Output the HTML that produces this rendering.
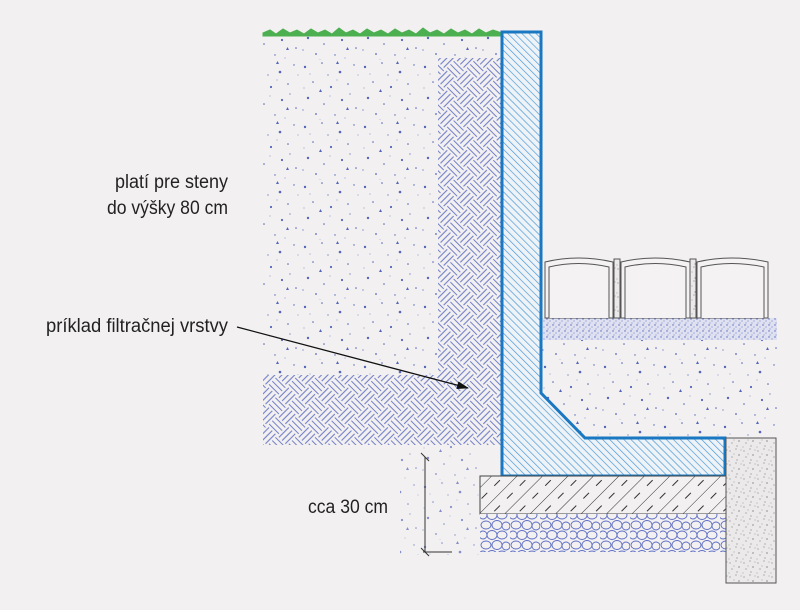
<!DOCTYPE html>
<html><head><meta charset="utf-8"><style>
html,body{margin:0;padding:0;background:#f2f0f0;}
svg{display:block;}
text{font-family:"Liberation Sans",sans-serif;font-size:19px;fill:#222;}
</style></head><body>
<svg width="800" height="610" viewBox="0 0 800 610" xmlns="http://www.w3.org/2000/svg">
<defs>
<pattern id="soil" width="60" height="60" patternUnits="userSpaceOnUse">
<rect width="60" height="60" fill="#f2f0f0"/>
<g fill="#5566bb">
<circle cx="5" cy="7" r="1.2"/><circle cx="22" cy="3" r="0.8"/><circle cx="40" cy="12" r="1.3"/><circle cx="54" cy="5" r="0.7"/>
<circle cx="13" cy="22" r="0.8"/><circle cx="31" cy="27" r="1.1"/><circle cx="48" cy="24" r="0.8"/><circle cx="8" cy="38" r="1.2"/>
<circle cx="24" cy="44" r="0.8"/><circle cx="42" cy="40" r="1.1"/><circle cx="56" cy="48" r="0.8"/><circle cx="16" cy="54" r="0.9"/>
<circle cx="35" cy="55" r="0.7"/><circle cx="3" cy="50" r="0.6"/><circle cx="50" cy="34" r="0.6"/><circle cx="28" cy="15" r="0.6"/>
<polygon points="19,32 22,32 20.5,29"/><polygon points="46,50 49,50 47.5,47"/><polygon points="36,4 39,4 37.5,1"/>
</g>
<g fill="#99a3d6"><circle cx="10" cy="14" r="0.6"/><circle cx="37" cy="20" r="0.6"/><circle cx="58" cy="15" r="0.6"/><circle cx="20" cy="60" r="0.6"/><circle cx="30" cy="36" r="0.6"/><circle cx="45" cy="58" r="0.6"/><circle cx="4" cy="28" r="0.6"/></g>
</pattern>
<pattern id="weave" width="28" height="28" patternUnits="userSpaceOnUse" patternTransform="rotate(45)">
<rect width="28" height="28" fill="#f2f0f0"/>
<g stroke="#7380c8" stroke-width="1.1" fill="none">
<path d="M0 2.5 H14 M0 7 H14 M0 11.5 H14"/>
<path d="M14 16.5 H28 M14 21 H28 M14 25.5 H28"/>
<path d="M16.5 0 V14 M21 0 V14 M25.5 0 V14"/>
<path d="M2.5 14 V28 M7 14 V28 M11.5 14 V28"/>
</g>
</pattern>
<pattern id="wall" width="5" height="5" patternUnits="userSpaceOnUse" patternTransform="rotate(-45)">
<rect width="5" height="5" fill="#eef3f8"/><line x1="0" y1="0" x2="0" y2="5" stroke="#4f9ad6" stroke-width="1.4"/>
</pattern>
<pattern id="sand" width="6" height="6" patternUnits="userSpaceOnUse">
<rect width="6" height="6" fill="#dfe1f0"/><circle cx="1" cy="1" r="0.7" fill="#5566bb"/><circle cx="4" cy="3" r="0.6" fill="#7f8acc"/><circle cx="2" cy="5" r="0.5" fill="#5566bb"/>
</pattern>
<pattern id="conc" width="14" height="14" patternUnits="userSpaceOnUse">
<rect width="14" height="14" fill="#ebe9e9"/><g fill="#555"><circle cx="2" cy="3" r="0.5"/><circle cx="8" cy="1" r="0.5"/><circle cx="11" cy="7" r="0.6"/><circle cx="4" cy="9" r="0.5"/><circle cx="9" cy="12" r="0.5"/><circle cx="6" cy="6" r="0.4"/><circle cx="13" cy="2" r="0.4"/><circle cx="1" cy="13" r="0.4"/></g>
</pattern>
<pattern id="hatch" width="18" height="18" patternUnits="userSpaceOnUse" patternTransform="rotate(45)">
<rect width="18" height="18" fill="#f2f0f0"/><line x1="0" y1="0" x2="0" y2="18" stroke="#333" stroke-width="1"/><line x1="9" y1="4" x2="9" y2="12" stroke="#333" stroke-width="1"/>
</pattern>
<pattern id="gravel" width="30" height="20" patternUnits="userSpaceOnUse">
<rect width="30" height="20" fill="#f2f0f0"/><g fill="none" stroke="#5a6bc4" stroke-width="0.9">
<ellipse cx="6" cy="5" rx="5" ry="4"/><ellipse cx="17" cy="5" rx="5" ry="4.5"/><ellipse cx="26" cy="6" rx="4" ry="4"/>
<ellipse cx="3" cy="15" rx="4" ry="4"/><ellipse cx="12" cy="15" rx="5" ry="4.5"/><ellipse cx="22" cy="15" rx="5" ry="4"/></g>
</pattern>
<marker id="ah" markerWidth="12" markerHeight="8" refX="11" refY="4" orient="auto" markerUnits="userSpaceOnUse"><path d="M0 0 L12 4 L0 8 Z" fill="#111"/></marker>
</defs>

<rect x="263" y="32" width="239" height="413" fill="url(#soil)"/>
<rect x="438" y="58" width="64" height="317" fill="url(#weave)"/>
<rect x="263" y="375" width="239" height="70" fill="url(#weave)"/>
<path d="M263 33 L270 30 L276 34 L283 29 L290 33 L297 30 L304 34 L311 29 L318 33 L325 30 L332 34 L339 28 L346 33 L353 30 L360 34 L367 29 L374 33 L381 30 L388 34 L395 29 L402 33 L409 30 L416 34 L423 28 L430 33 L437 30 L444 34 L451 29 L458 33 L465 30 L472 34 L479 29 L486 33 L493 30 L502 33 L502 36 L263 36 Z" fill="#4caf50" stroke="#4caf50" stroke-width="1"/>
<rect x="400" y="445" width="80" height="110" fill="url(#soil)" opacity="0.7"/>
<rect x="541" y="340" width="236" height="98" fill="url(#soil)"/>
<rect x="541" y="318" width="236" height="22" fill="url(#sand)"/>
<g fill="#f4f2f2" stroke="#555" stroke-width="1">
<path d="M545 318 V262 Q578 254 613 262 V318 Z"/><path d="M549 318 V267 Q578 260 609 267 V318"/>
<path d="M621 318 V262 Q655 254 690 262 V318 Z"/><path d="M625 318 V267 Q655 260 686 267 V318"/>
<path d="M697 318 V262 Q731 254 768 262 V318 Z"/><path d="M701 318 V267 Q731 260 764 267 V318"/>
</g>
<rect x="614" y="259" width="6" height="59" fill="url(#conc)" stroke="#555"/>
<rect x="690" y="259" width="6" height="59" fill="url(#conc)" stroke="#555"/>
<path d="M502 32 L541 32 L541 393 L585 438 L725 438 L725 476 L502 476 Z" fill="url(#wall)" stroke="#1a78c2" stroke-width="3"/>
<rect x="480" y="476" width="246" height="38" fill="url(#hatch)" stroke="#444" stroke-width="1"/>
<rect x="480" y="514" width="246" height="38" fill="url(#gravel)"/>
<rect x="726" y="438" width="50" height="145" fill="url(#conc)" stroke="#555" stroke-width="1"/>
<g stroke="#333" stroke-width="1">
<line x1="425" y1="457" x2="425" y2="552"/><line x1="421" y1="453" x2="429" y2="461"/><line x1="421" y1="548" x2="429" y2="556"/><line x1="423" y1="552" x2="452" y2="552"/>
</g>
<line x1="237" y1="327" x2="468" y2="388" stroke="#111" stroke-width="1.3" marker-end="url(#ah)"/>
<text x="228" y="188" text-anchor="end" textLength="113" lengthAdjust="spacingAndGlyphs">platí pre steny</text>
<text x="228" y="214" text-anchor="end" textLength="121" lengthAdjust="spacingAndGlyphs">do výšky 80 cm</text>
<text x="46" y="332" textLength="182" lengthAdjust="spacingAndGlyphs">príklad filtračnej vrstvy</text>
<text x="308" y="513" textLength="80" lengthAdjust="spacingAndGlyphs">cca 30 cm</text>
</svg>
</body></html>
